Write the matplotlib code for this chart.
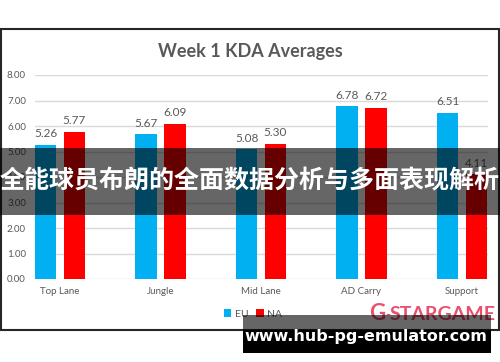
import numpy as np
import matplotlib
matplotlib.use("Agg")
import matplotlib.pyplot as plt
from matplotlib.patches import Rectangle

# data
roles = ["Top Lane", "Jungle", "Mid Lane", "AD Carry", "Support"]
eu_kda = [5.26, 5.67, 5.08, 6.78, 6.51]
na_kda = [5.77, 6.09, 5.30, 6.72, 4.11]
y_ticks = [0, 1, 2, 3, 4, 5, 6, 7, 8]

title = "Week 1 KDA Averages"
banner_text = "全能球员布朗的全面数据分析与多面表现解析"
site_text = "www.hub-pg-emulator.com"
logo_text = "STARGAME"

EU_COL = "#00B0F0"
NA_COL = "#FF0000"
GRAY = "#595959"

plt.rcParams['font.family'] = ['Lato', 'DejaVu Sans']

W, H = 500, 362
fig = plt.figure(figsize=(W / 100, H / 100), dpi=100)


def fx(px):
    return px / W


def fy(py):
    return 1 - py / H


ax = fig.add_axes([fx(35), fy(279), fx(453), 204 / H])

x = np.arange(len(roles))
bw = 0.214
off = 0.143
b1 = ax.bar(x - off, eu_kda, bw, color=EU_COL, zorder=2, label="EU")
b2 = ax.bar(x + off, na_kda, bw, color=NA_COL, zorder=2, label="NA")
for bars, vals in [(b1, eu_kda), (b2, na_kda)]:
    for b, v in zip(bars, vals):
        ax.annotate("%.2f" % v, (b.get_x() + b.get_width() / 2, v),
                    xytext=(0, 4), textcoords="offset points",
                    ha="center", va="bottom", fontsize=8.5, color=GRAY)

ax.set_ylim(0, 8)
ax.set_xlim(-0.249, 4.259)
ax.set_yticks(y_ticks)
ax.set_yticklabels(["%.2f" % t for t in y_ticks])
ax.set_xticks(x)
ax.set_xticklabels(roles)
ax.tick_params(axis="both", length=0, labelsize=7, colors=GRAY)
ax.tick_params(axis="y", pad=6.5)
ax.tick_params(axis="x", pad=6)
ax.yaxis.grid(True, color="#D9D9D9", lw=1, zorder=0)
for s in ax.spines.values():
    s.set_visible(False)

fig.text(0.5, fy(51), title, ha="center", va="center",
         fontsize=13, fontweight="bold", color=GRAY)

leg = fig.legend(handles=[b1, b2], loc="center", bbox_to_anchor=(fx(253), fy(314)),
                 ncol=2, frameon=False, fontsize=7.5, handlelength=0.7,
                 handleheight=0.7, handletextpad=0.3, columnspacing=0.8)
for t in leg.get_texts():
    t.set_color(GRAY)

# chart frame
fig.add_artist(Rectangle((fx(0.8), fy(330)), fx(498), 301 / H, fill=False,
                         ec="#262626", lw=1.5, transform=fig.transFigure))

# watermark logo
fig.text(fx(377), fy(314), "G", ha="center", va="center", fontsize=16,
         fontweight="bold", color="#E9506E")
fig.text(fx(388), fy(315), "-", ha="center", va="center", fontsize=10,
         fontweight="bold", color="#E9506E")
fig.text(fx(443), fy(315), logo_text, ha="center", va="center", fontsize=14,
         fontweight="bold", color="#E9506E")

# overlays
fig.add_artist(Rectangle((0, fy(215)), 1, 67 / H, color="black", alpha=0.6,
                         lw=0, transform=fig.transFigure, zorder=10))
fig.text(0.5, fy(181), banner_text, ha="center", va="center", fontsize=18,
         fontweight="bold", color="white", zorder=11,
         family=['Noto Sans CJK SC', 'DejaVu Sans'])

fig.add_artist(Rectangle((fx(243), fy(330)), fx(248), 15 / H, color="black",
                         alpha=0.6, lw=0, transform=fig.transFigure, zorder=10))
fig.add_artist(Rectangle((fx(243), fy(353)), fx(248), 23 / H, color="black",
                         lw=0, transform=fig.transFigure, zorder=10))
fig.text(fx(366), fy(337), site_text, ha="center", va="center", fontsize=11.5,
         fontweight="bold", color="white", zorder=11, family="DejaVu Sans")

fig.savefig("out.png", dpi=100)
